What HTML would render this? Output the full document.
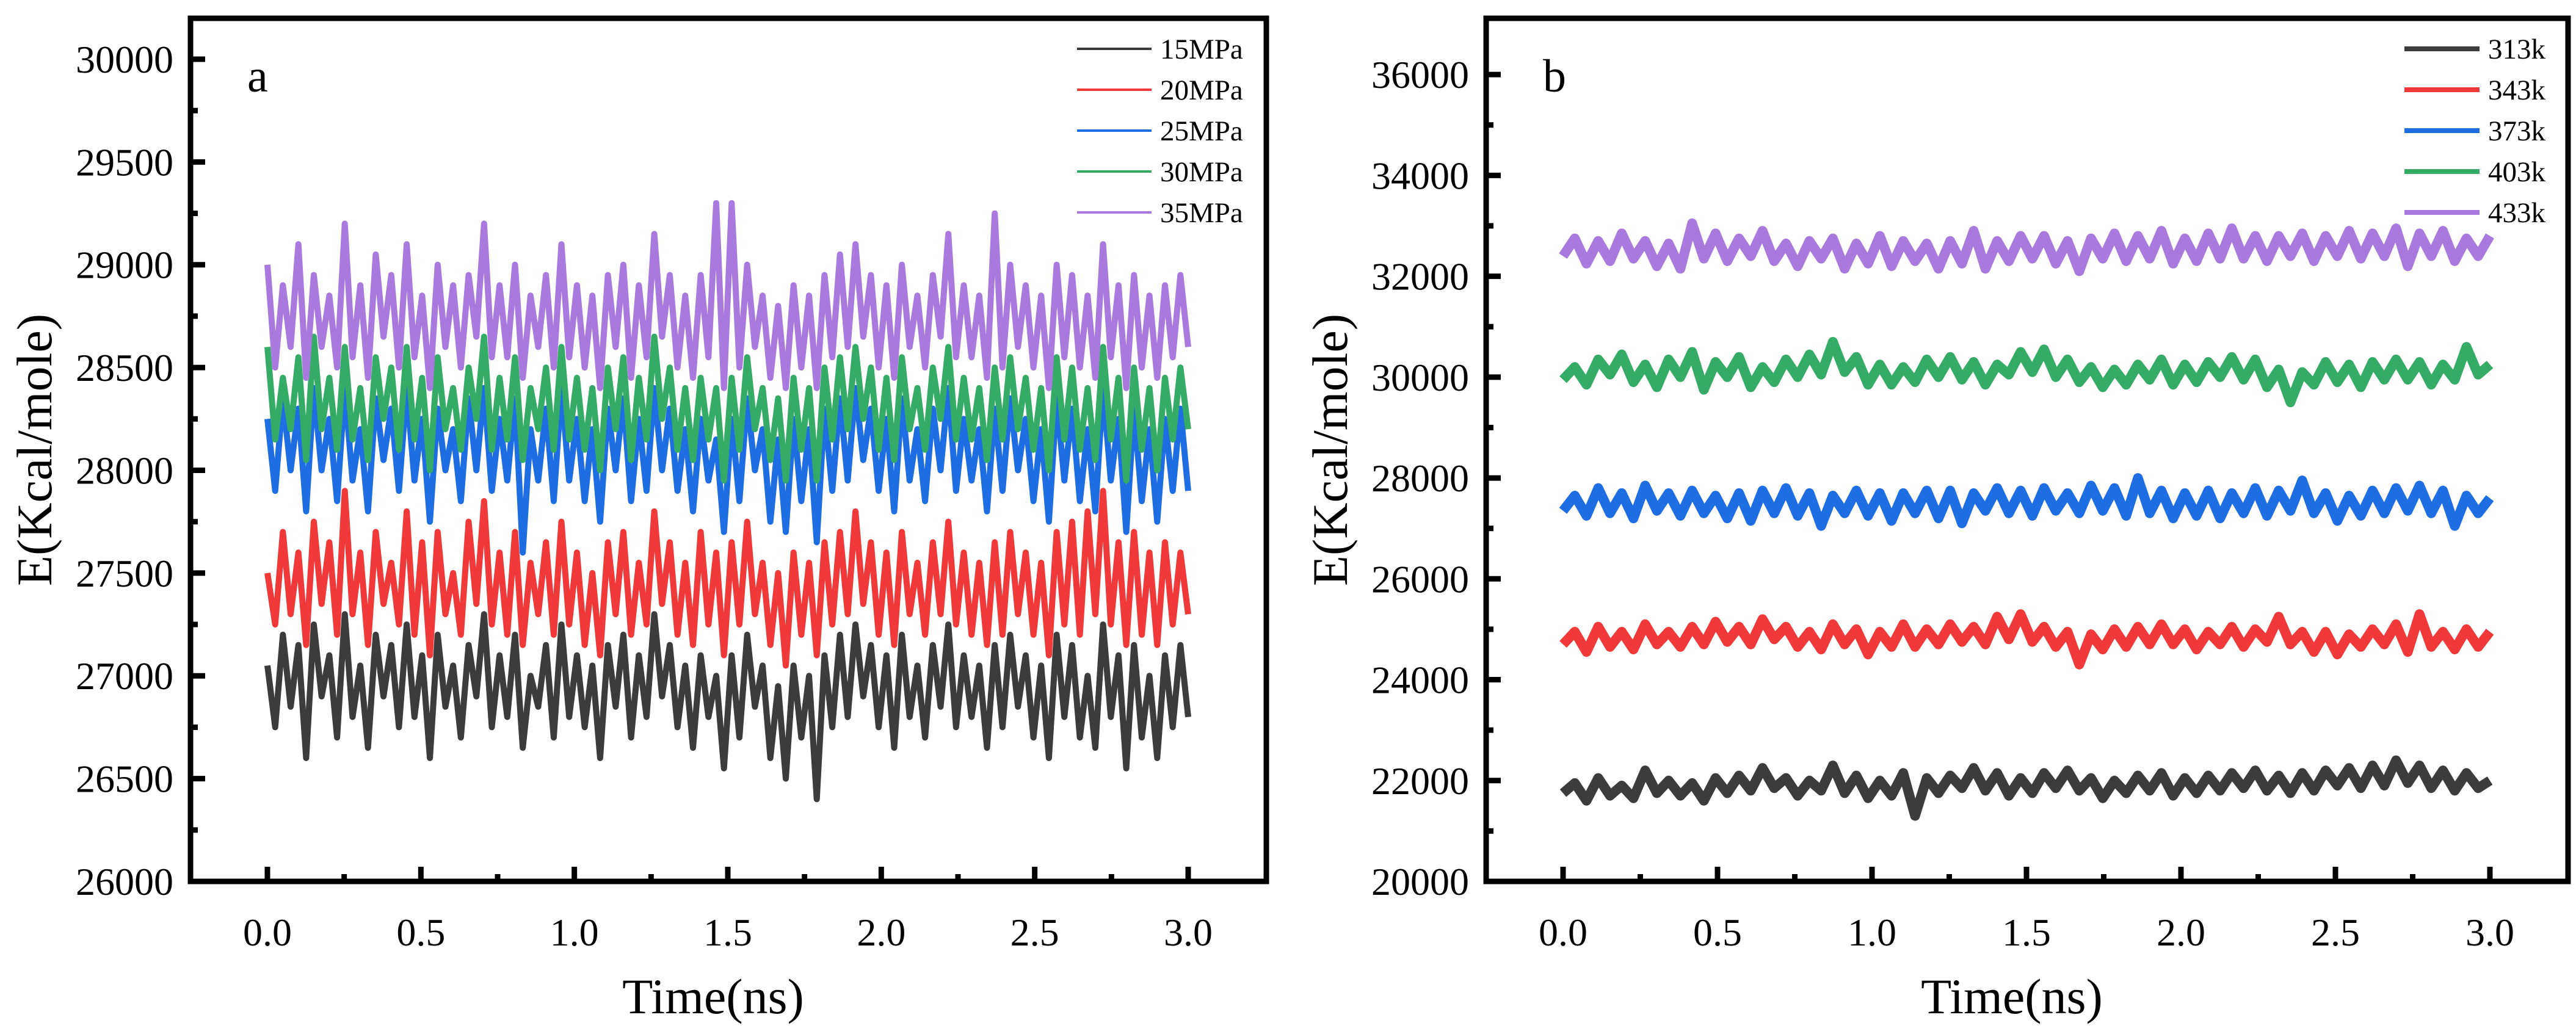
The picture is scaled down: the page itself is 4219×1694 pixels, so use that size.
<!DOCTYPE html>
<html><head><meta charset="utf-8">
<style>
html,body{margin:0;padding:0;background:#fff;}
svg{display:block;font-family:"Liberation Serif",serif;}
</style></head>
<body>
<svg id="fig" width="4219" height="1694" viewBox="0 0 4219 1694" xmlns="http://www.w3.org/2000/svg">
<rect width="4219" height="1694" fill="#fff"/>
<g id="pa"></g>
<g id="pb"></g>
</svg>
<script>
const xTicks = [0.0, 0.5, 1.0, 1.5, 2.0, 2.5, 3.0];
const xTickLabels = ["0.0","0.5","1.0","1.5","2.0","2.5","3.0"];
const aYTicks = [26000,26500,27000,27500,28000,28500,29000,29500,30000];
const bYTicks = [20000,22000,24000,26000,28000,30000,32000,34000,36000];
const aNames = ["15MPa","20MPa","25MPa","30MPa","35MPa"];
const bNames = ["313k","343k","373k","403k","433k"];
const colors = ["#3c3c3c","#f03a3a","#1f6de2","#36ab68","#a97ade"];

const a15 = [27050,26750,27200,26850,27150,26600,27250,26900,27100,26700,27300,26800,27050,26650,27200,26900,27150,26750,27250,26800,27100,26600,27200,26850,27050,26700,27150,26900,27300,26750,27100,26800,27200,26650,27000,26850,27150,26700,27250,26800,27100,26750,27050,26600,27150,26850,27200,26700,27100,26800,27300,26900,27150,26750,27050,26650,27100,26800,27000,26550,27100,26700,27200,26850,27050,26600,26950,26500,27050,26700,27000,26400,27100,26750,27200,26800,27250,26900,27150,26750,27100,26650,27200,26800,27050,26700,27150,26850,27250,26750,27100,26800,27050,26650,27150,26750,27200,26850,27100,26700,27050,26600,27200,26800,27150,26700,27000,26650,27250,26800,27100,26550,27150,26700,27000,26600,27100,26750,27150,26800];
const a20 = [27500,27250,27700,27300,27600,27150,27750,27350,27650,27200,27900,27300,27600,27150,27700,27350,27550,27250,27800,27200,27650,27100,27700,27300,27500,27200,27750,27350,27850,27250,27600,27200,27700,27150,27550,27300,27650,27200,27750,27250,27600,27150,27500,27100,27650,27300,27700,27200,27550,27250,27800,27350,27650,27200,27550,27150,27700,27250,27600,27100,27650,27250,27750,27300,27550,27150,27500,27050,27600,27200,27550,27100,27650,27250,27700,27300,27800,27350,27650,27200,27600,27150,27700,27300,27550,27200,27650,27300,27750,27250,27600,27200,27550,27150,27650,27200,27700,27300,27600,27200,27550,27100,27700,27250,27750,27200,27800,27300,27900,27250,27650,27150,27700,27200,27600,27150,27650,27250,27600,27300];
const a25 = [28250,27900,28350,28000,28300,27800,28400,28000,28250,27850,28400,27950,28200,27800,28350,28050,28300,27900,28400,27950,28250,27750,28300,28000,28200,27850,28350,28000,28400,27900,28250,27950,28350,27600,28200,27950,28300,27850,28400,27950,28250,27850,28200,27750,28300,28000,28350,27850,28250,27900,28400,28000,28300,27900,28200,27800,28250,27950,28150,27700,28250,27850,28350,28000,28200,27750,28150,27700,28250,27850,28200,27650,28300,27900,28350,27950,28400,28050,28300,27900,28250,27800,28350,27950,28200,27850,28300,28000,28400,27900,28250,27950,28200,27800,28300,27900,28350,28000,28250,27850,28200,27750,28350,27950,28300,27850,28200,27800,28400,27950,28250,27700,28300,27850,28200,27750,28250,27900,28300,27900];
const a30 = [28600,28150,28450,28200,28550,28050,28650,28200,28450,28100,28600,28150,28400,28050,28550,28250,28500,28100,28600,28150,28450,28000,28550,28200,28400,28100,28500,28250,28650,28100,28450,28150,28550,28050,28400,28200,28500,28100,28600,28150,28450,28100,28400,28000,28500,28200,28550,28050,28450,28150,28650,28250,28500,28100,28400,28050,28450,28150,28400,27950,28450,28100,28550,28200,28400,28050,28350,27950,28450,28100,28400,27950,28500,28150,28550,28200,28600,28250,28500,28100,28450,28050,28550,28200,28400,28100,28500,28250,28600,28150,28450,28150,28400,28050,28500,28150,28550,28200,28450,28100,28400,28000,28550,28150,28500,28100,28400,28050,28600,28150,28450,27950,28500,28100,28400,28000,28450,28150,28500,28200];
const a35 = [29000,28500,28900,28600,29100,28450,28950,28600,28850,28500,29200,28550,28900,28450,29050,28650,28950,28500,29100,28550,28850,28400,29000,28600,28900,28500,28950,28650,29200,28550,28900,28550,29000,28450,28850,28600,28950,28500,29100,28550,28900,28500,28850,28400,28950,28600,29000,28450,28900,28550,29150,28650,28950,28500,28850,28450,28950,28550,29300,28400,29300,28500,29000,28600,28850,28450,28800,28400,28900,28500,28850,28400,28950,28550,29050,28600,29100,28650,28950,28500,28900,28450,29000,28600,28850,28500,28950,28650,29150,28550,28900,28550,28850,28450,29250,28500,29000,28600,28900,28500,28850,28400,29000,28550,28950,28500,28850,28450,29100,28550,28900,28400,28950,28500,28850,28450,28900,28550,28950,28600];
const b313 = [21750,21950,21600,22050,21700,21900,21650,22200,21750,22000,21700,21950,21600,22050,21750,22100,21800,22250,21850,22050,21700,22000,21800,22300,21750,22100,21650,22000,21700,22150,21300,22050,21750,22100,21850,22250,21800,22150,21700,22050,21750,22150,21850,22200,21800,22050,21650,22000,21750,22100,21800,22150,21700,22050,21750,22100,21800,22150,21850,22200,21800,22100,21750,22150,21800,22200,21900,22250,21850,22300,21900,22400,21950,22300,21850,22200,21800,22150,21850,22000];
const b343 = [24700,24950,24550,25050,24650,24950,24600,25100,24700,24950,24650,25050,24700,25150,24750,25050,24700,25200,24800,25050,24650,24950,24600,25100,24700,25000,24500,24950,24650,25100,24650,25000,24700,25100,24750,25050,24700,25250,24800,25300,24750,25050,24650,24950,24300,24900,24600,25000,24650,25050,24700,25100,24700,25000,24600,24950,24700,25050,24650,25000,24750,25250,24700,24950,24550,24950,24500,24900,24650,25000,24700,25100,24550,25300,24650,24950,24600,25000,24650,24950];
const b373 = [27350,27650,27250,27800,27300,27700,27200,27850,27350,27700,27250,27750,27300,27650,27200,27700,27150,27750,27300,27800,27250,27700,27050,27650,27300,27750,27250,27700,27150,27700,27300,27750,27200,27750,27100,27700,27350,27800,27300,27750,27250,27800,27350,27700,27300,27850,27350,27800,27250,28000,27300,27750,27200,27700,27250,27750,27200,27700,27300,27800,27250,27750,27350,27950,27300,27700,27150,27650,27250,27750,27300,27800,27350,27850,27300,27750,27050,27650,27300,27600];
const b403 = [29950,30200,29850,30350,30050,30450,29900,30250,29800,30350,30000,30500,29750,30300,30000,30400,29800,30200,29900,30350,30000,30450,30050,30700,30100,30400,29850,30250,29850,30200,29900,30350,30000,30400,29950,30300,29850,30250,30050,30500,30100,30550,30000,30350,29900,30200,29800,30150,29850,30250,29950,30350,29850,30250,29900,30300,30000,30400,29950,30350,29800,30150,29500,30100,29850,30300,29900,30250,29800,30300,29950,30350,29950,30300,29850,30250,29950,30600,30050,30250];
const b433 = [32400,32750,32250,32700,32300,32850,32350,32700,32200,32650,32150,33050,32350,32850,32300,32750,32400,32900,32300,32650,32200,32700,32350,32750,32150,32650,32250,32800,32200,32700,32300,32650,32150,32700,32250,32900,32150,32700,32300,32800,32350,32800,32250,32700,32100,32750,32350,32850,32300,32800,32350,32900,32250,32750,32300,32850,32350,32950,32350,32800,32300,32800,32400,32850,32300,32800,32400,32900,32350,32850,32400,32950,32200,32850,32400,32900,32300,32750,32400,32800];

const aSeries = [a15,a20,a25,a30,a35];
const bSeries = [b313,b343,b373,b403,b433];
const NS = "http://www.w3.org/2000/svg";

function mk(parent, tag, attrs){
  const e = document.createElementNS(NS, tag);
  for (const k in attrs) e.setAttribute(k, attrs[k]);
  parent.appendChild(e);
  return e;
}

function panel(g, cfg){
  const {L,R,T,B,x0,x3,yMin,yMax,yTicks,series,names,letter,sw,leg} = cfg;
  const xs = v => x0 + (x3 - x0) * v / 3;
  const ys = v => B - (B - T) * (v - yMin) / (yMax - yMin);
  series.forEach((arr, si) => {
    const n = arr.length;
    const pts = arr.map((v, i) => xs(3 * i / (n - 1)).toFixed(1) + "," + ys(v).toFixed(1)).join(" ");
    const pl = mk(g, "polyline", {points: pts, fill: "none", stroke: colors[si], "stroke-width": sw, "stroke-linejoin": "round"});
    
    
  });
  const fr = mk(g, "rect", {x: L, y: T, width: R - L, height: B - T, fill: "none", stroke: "#000", "stroke-width": 9});
  
  
  yTicks.forEach((v, i) => {
    const y = ys(v);
    const t = mk(g, "line", {x1: L, x2: L + 24, y1: y, y2: y, stroke: "#000", "stroke-width": 9});
    
    
    if (i < yTicks.length - 1) {
      const ym = ys(v + (yTicks[1] - yTicks[0]) / 2);
      const m = mk(g, "line", {x1: L, x2: L + 12, y1: ym, y2: ym, stroke: "#000", "stroke-width": 9});
      
      
    }
    const tx = mk(g, "text", {x: L - 28, y: y + 22, "text-anchor": "end", "font-size": 64, fill: "#000"});
    tx.textContent = String(v);
    
    
  });
  xTicks.forEach((v, i) => {
    const x = xs(v);
    const t = mk(g, "line", {x1: x, x2: x, y1: B, y2: B - 24, stroke: "#000", "stroke-width": 9});
    
    
    if (i < xTicks.length - 1) {
      const xm = xs(v + 0.25);
      const m = mk(g, "line", {x1: xm, x2: xm, y1: B, y2: B - 12, stroke: "#000", "stroke-width": 9});
      
      
    }
    const tx = mk(g, "text", {x: x, y: B + 105, "text-anchor": "middle", "font-size": 64, fill: "#000"});
    tx.textContent = xTickLabels[i];
    
    
  });
  const xt = mk(g, "text", {x: (L + R) / 2 - 25, y: 1660, "text-anchor": "middle", "font-size": 82, fill: "#000"});
  xt.textContent = "Time(ns)";
  
  
  const yt = mk(g, "text", {x: 0, y: 0, "text-anchor": "middle", "font-size": 82, fill: "#000",
    transform: "translate(" + (L - 228) + "," + ((T + B) / 2) + ") rotate(-90)"});
  yt.textContent = "E(Kcal/mole)";
  
  
  const lt = mk(g, "text", {x: L + 93, y: T + 120, "font-size": 76, fill: "#000"});
  lt.textContent = letter;
  
  
  names.forEach((nm, i) => {
    const y = 80 + i * 67;
    const ln = mk(g, "line", {x1: leg.x1, x2: leg.x2, y1: y, y2: y, stroke: colors[i], "stroke-width": leg.sw});
    
    
    const tx = mk(g, "text", {x: leg.x2 + 14, y: y + 16, "font-size": 47, fill: "#000"});
    tx.textContent = nm;
    
    
  });
}

panel(document.getElementById("pa"), {L:312,R:2074,T:30,B:1444,x0:438,x3:1946,yMin:26000,yMax:30000+67/168.4*500,
  yTicks:aYTicks,series:aSeries,names:aNames,letter:"a",sw:10,leg:{x1:1764,x2:1886,sw:4}});
panel(document.getElementById("pb"), {L:2434,R:4206,T:30,B:1444,x0:2560,x3:4078,yMin:20000,yMax:36000+92/165*2000,
  yTicks:bYTicks,series:bSeries,names:bNames,letter:"b",sw:16,leg:{x1:3938,x2:4061,sw:8}});
</script>
</body></html>
